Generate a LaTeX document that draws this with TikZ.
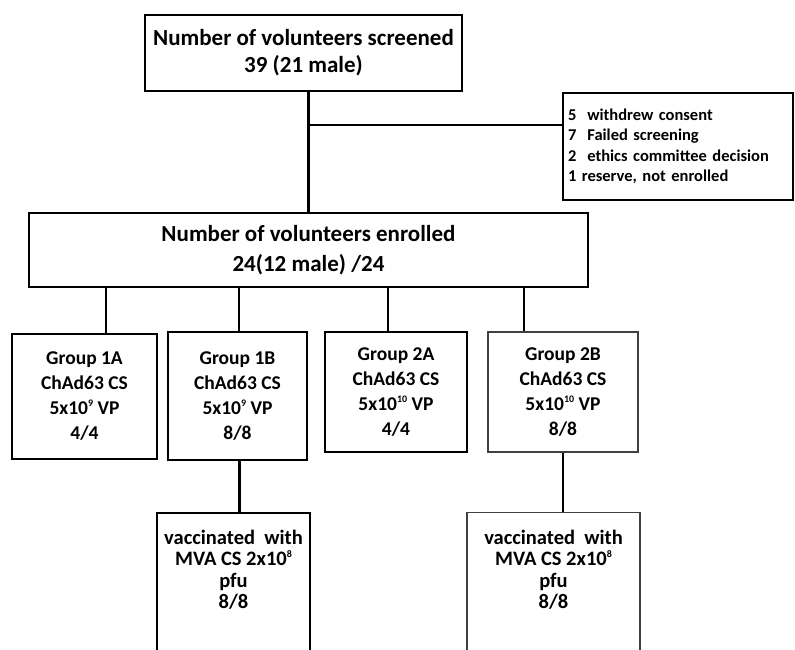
\documentclass[tikz,border=0pt]{standalone}
\usepackage{fontspec}
\setmainfont{Carlito}
\usepackage{tikz}
\newcommand{\pw}[1]{\raisebox{0.42em}{\fontsize{10}{10}\selectfont #1}}

\begin{document}
\begin{tikzpicture}[x=1pt, y=-1pt,
    main/.style = {draw, line width=2.4pt, align=center, inner sep=0pt,
        font=\bfseries\fontsize{19.5}{25}\selectfont},
    big/.style = {main, font=\bfseries\fontsize{23}{27}\selectfont},
    grp/.style = {main, line width=2pt},
    light/.style = {main, line width=1.3pt, draw=black!75},
    note/.style = {draw, line width=1.8pt, align=left, inner xsep=5pt,
        text width=220pt, font=\bfseries\fontsize{16.5}{20.5}\selectfont},
    txt/.style = {align=center, inner sep=0pt,
        font=\bfseries\fontsize{20.5}{21.5}\selectfont},
    link/.style = {line width=2.2pt}]
    \useasboundingbox (0,0) rectangle (795,649);
    \clip (0,0) rectangle (795,649);
    % boxes
    \node[big, minimum width=317, minimum height=76] (scr) at (303.5,53)
        {Number of volunteers screened\\39 (21 male)};
    \node[note, minimum height=107] (excl) at (678,146.5)
        {5\ \ withdrew consent\\7\ \ Failed screening\\2\ \ ethics committee decision\\1 reserve, not enrolled};
    \node[big, minimum width=559, minimum height=74, font=\bfseries\fontsize{23}{30}\selectfont] (enr) at (308.5,250)
        {Number of volunteers enrolled\\24(12 male) /24};
    \node[main, minimum width=145, minimum height=125] (g1a) at (84.5,396.5)
        {Group 1A\\ChAd63 CS\\5x10\pw{9} VP\\4/4};
    \node[main, minimum width=139, minimum height=128] (g1b) at (237.5,396)
        {Group 1B\\ChAd63 CS\\5x10\pw{9} VP\\8/8};
    \node[grp, minimum width=142, minimum height=120] (g2a) at (396,392)
        {Group 2A\\ChAd63 CS\\5x10\pw{10} VP\\4/4};
    \node[light, minimum width=150, minimum height=120] (g2b) at (563,392)
        {Group 2B\\ChAd63 CS\\5x10\pw{10} VP\\8/8};
    \node[main, minimum width=153, minimum height=190, anchor=north] (va) at (233.5,512) {};
    \node[txt] (vat) at (233.5,570) {vaccinated\ \ with\\MVA CS 2x10\pw{8}\\pfu\\8/8};
    \node[light, minimum width=173, minimum height=190, anchor=north] (vb) at (553.5,512) {};
    \node[txt] (vbt) at (553.5,570) {vaccinated\ \ with\\MVA CS 2x10\pw{8}\\pfu\\8/8};
    % connectors
    \coordinate (j) at (308.5,125);
    \draw[link] (scr.south -| enr.north) -- (enr.north);
    \draw[link] (j) -- (j -| excl.west);
    \draw[link] ([xshift=21.5pt]g1a.north) -- ([xshift=21.5pt]g1a.north |- enr.south);
    \draw[link] ([xshift=1.5pt]g1b.north) -- ([xshift=1.5pt]g1b.north |- enr.south);
    \draw[link] ([xshift=-8pt]g2a.north) -- ([xshift=-8pt]g2a.north |- enr.south);
    \draw[link] ([xshift=-39pt]g2b.north) -- ([xshift=-39pt]g2b.north |- enr.south);
    \draw[link] ([xshift=2pt]g1b.south) -- ([xshift=2pt]g1b.south |- va.north);
    \draw[link] (g2b.south) -- (g2b.south |- vb.north);
\end{tikzpicture}
\end{document}
